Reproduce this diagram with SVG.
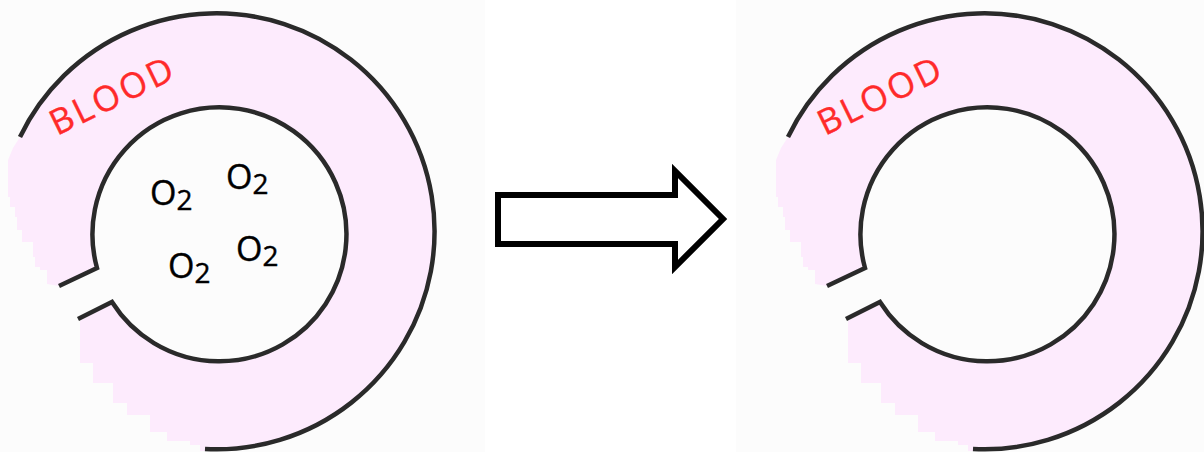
<svg xmlns="http://www.w3.org/2000/svg" xmlns:xlink="http://www.w3.org/1999/xlink" width="1204" height="452" viewBox="0 0 1204 452">
  <style>
    .panel { fill: #fcfcfc; }
    .blood { fill: #fdebfd; stroke: none; }
    .wall { fill: none; stroke: #2a2a2a; stroke-width: 4.5; stroke-linejoin: miter; }
    .label { font-family: "Open Sans", "Liberation Sans", sans-serif; fill: #ff2a2a; stroke: #ff2a2a; stroke-width: 0.4; font-size: 35px; letter-spacing: 3px; }
    .o2 { font-family: "Open Sans", "Liberation Sans", sans-serif; fill: #000; stroke: #000; stroke-width: 0.4; font-size: 34px; }
    .sub { font-size: 28px; }
    .arrow { fill: #ffffff; stroke: #000; stroke-width: 6; stroke-linejoin: miter; stroke-miterlimit: 10; }
  </style>
  <defs>
    <g id="alveolus">
      <path class="blood" d="M 20,137 A 218 218 0 1 1 205,449 L 205,451 L 200,451 L 200,445 L 190,445 L 190,441 L 167,441 L 167,432 L 150,432 L 150,430 L 150,415 L 127,415 L 127,403 L 113,403 L 113,383 L 93,383 L 93,363 L 80,363 L 80,321 L 112,302 A 127 127 0 1 0 97,268 L 59,286 L 47,284 L 47,270 L 40,270 L 40,267 L 35,267 L 35,257 L 33,257 L 33,242 L 22,242 L 22,230 L 17,230 L 17,217 L 15,217 L 15,207 L 10,207 L 10,197 L 8,197 L 8,160 L 13,148 Z"/>
      <path class="wall" d="M 20,137 A 218 218 0 1 1 205,449"/>
      <path class="wall" d="M 59,286 L 97,268 A 127 127 0 1 1 112,302 L 78,319"/>
      <text class="label" transform="translate(57,136) rotate(-26)">BLOOD</text>
    </g>
  </defs>
  <rect class="panel" x="0" y="0" width="485" height="452"/>
  <rect class="panel" x="736" y="0" width="468" height="452"/>
  <g id="alveolus-left">
    <use xlink:href="#alveolus" href="#alveolus"/>
    <text class="o2" x="150" y="204.5">O<tspan class="sub" dy="5">2</tspan></text>
    <text class="o2" x="226" y="189">O<tspan class="sub" dy="5">2</tspan></text>
    <text class="o2" x="168" y="277.5">O<tspan class="sub" dy="5">2</tspan></text>
    <text class="o2" x="236" y="261">O<tspan class="sub" dy="5">2</tspan></text>
  </g>
  <g id="connectors">
    <polygon class="arrow" points="498,195 675,195 675,171 723,219 675,267 675,244 498,244"/>
  </g>
  <g id="alveolus-right">
    <use xlink:href="#alveolus" href="#alveolus" transform="translate(768,0)"/>
  </g>
</svg>
